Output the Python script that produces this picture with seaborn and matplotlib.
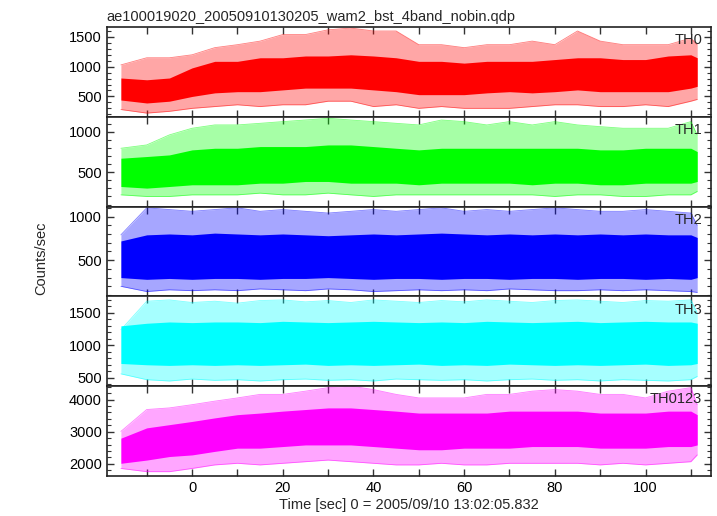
import numpy as np
import pandas as pd
import matplotlib
matplotlib.use("Agg")
import matplotlib.pyplot as plt
from matplotlib.ticker import MultipleLocator
import seaborn as sns

t = [-15.7, -10, -5, 0, 5, 10, 15, 20, 25, 30, 35, 40, 45, 50, 55, 60,
     65, 70, 75, 80, 85, 90, 95, 100, 105, 110, 111.4]

bands = ["TH0", "TH1", "TH2", "TH3", "TH0123"]
colors = ["#ff0000", "#00ff00", "#0000ff", "#00ffff", "#ff00ff"]

# spike maxima / dense-core top / dense-core bottom / spike minima (counts/sec)
th0_hi = [1030, 1150, 1150, 1200, 1320, 1370, 1430, 1540, 1540, 1620, 1650, 1600, 1600, 1370,
          1370, 1320, 1370, 1370, 1430, 1370, 1600, 1430, 1370, 1370, 1370, 1480, 1370]
th0_chi = [810, 780, 810, 980, 1090, 1090, 1150, 1150, 1180, 1180, 1200, 1180, 1150, 1090,
           1090, 1060, 1090, 1090, 1090, 1120, 1150, 1150, 1120, 1120, 1180, 1200, 1150]
th0_clo = [440, 390, 420, 500, 560, 580, 580, 610, 640, 640, 640, 610, 580, 530,
           530, 530, 560, 580, 560, 580, 610, 580, 580, 580, 580, 640, 670]
th0_lo = [280, 220, 250, 300, 330, 360, 330, 360, 360, 420, 420, 330, 360, 300,
          330, 300, 300, 300, 330, 360, 360, 330, 330, 360, 330, 420, 450]

th1_hi = [795, 836, 960, 1042, 1083, 1083, 1103, 1124, 1144, 1165, 1144, 1124, 1103, 1083,
          1144, 1124, 1083, 1124, 1083, 1124, 1083, 1062, 1042, 1042, 1042, 1124, 960]
th1_chi = [672, 693, 713, 775, 795, 795, 816, 816, 816, 836, 836, 816, 795, 775,
           795, 795, 795, 795, 795, 795, 795, 775, 775, 795, 795, 795, 754]
th1_clo = [323, 303, 323, 344, 344, 344, 364, 364, 385, 385, 364, 364, 364, 344,
           364, 364, 364, 364, 344, 364, 364, 344, 344, 364, 364, 364, 385]
th1_lo = [220, 200, 200, 220, 220, 220, 241, 220, 220, 241, 220, 200, 220, 220,
          220, 220, 220, 220, 220, 200, 220, 220, 200, 200, 220, 220, 262]

th2_hi = [790, 1100, 1080, 1060, 1080, 1100, 1060, 1080, 1060, 1040, 1060, 1080, 1060, 1080,
          1100, 1060, 1080, 1060, 1080, 1100, 1080, 1060, 1060, 1080, 1060, 1040, 900]
th2_chi = [720, 790, 800, 790, 810, 800, 790, 800, 790, 780, 790, 800, 790, 800,
           810, 800, 790, 800, 790, 800, 790, 800, 790, 800, 790, 790, 760]
th2_clo = [300, 280, 290, 280, 290, 290, 280, 290, 290, 300, 290, 280, 290, 290,
           280, 290, 290, 280, 290, 290, 280, 290, 290, 280, 290, 280, 300]
th2_lo = [200, 140, 160, 150, 160, 150, 170, 160, 150, 170, 160, 140, 150, 160,
          150, 160, 150, 170, 160, 150, 150, 160, 150, 160, 150, 140, 130]

th3_hi = [1240, 1680, 1700, 1660, 1680, 1650, 1690, 1700, 1670, 1690, 1660, 1700, 1680, 1660,
          1690, 1670, 1700, 1680, 1660, 1690, 1700, 1680, 1660, 1690, 1680, 1700, 1500]
th3_chi = [1300, 1340, 1360, 1350, 1360, 1360, 1350, 1370, 1360, 1350, 1360, 1370, 1360, 1350,
           1360, 1350, 1370, 1360, 1350, 1360, 1370, 1350, 1360, 1370, 1360, 1360, 1340]
th3_clo = [720, 700, 690, 700, 690, 700, 690, 700, 710, 690, 700, 690, 700, 710,
           690, 700, 690, 710, 700, 690, 700, 690, 700, 710, 690, 700, 720]
th3_lo = [560, 470, 450, 480, 460, 470, 450, 470, 480, 460, 470, 450, 480, 470,
          460, 470, 450, 470, 480, 460, 470, 450, 470, 460, 450, 470, 520]

th0123_hi = [3010, 3690, 3740, 3840, 3950, 4050, 4160, 4160, 4260, 4370, 4420, 4310, 4160, 4050,
             4050, 4050, 4160, 4160, 4260, 4310, 4260, 4160, 4160, 4050, 4260, 4370, 3840]
th0123_chi = [2800, 3120, 3220, 3320, 3430, 3530, 3580, 3640, 3690, 3740, 3740, 3690, 3640, 3580,
              3580, 3580, 3580, 3640, 3640, 3640, 3640, 3580, 3580, 3580, 3640, 3640, 3530]
th0123_clo = [2020, 2120, 2230, 2280, 2390, 2490, 2490, 2540, 2590, 2590, 2590, 2540, 2490, 2440,
              2440, 2490, 2490, 2490, 2540, 2540, 2540, 2490, 2490, 2490, 2540, 2540, 2590]
th0123_lo = [1860, 1760, 1760, 1860, 1970, 2020, 1970, 2020, 2070, 2120, 2070, 2020, 1970, 1970,
             2020, 1970, 1970, 2020, 2020, 2020, 2020, 1970, 2020, 1970, 2020, 2070, 2280]

envelopes = [
    (th0_hi, th0_chi, th0_clo, th0_lo),
    (th1_hi, th1_chi, th1_clo, th1_lo),
    (th2_hi, th2_chi, th2_clo, th2_lo),
    (th3_hi, th3_chi, th3_clo, th3_lo),
    (th0123_hi, th0123_chi, th0123_clo, th0123_lo),
]

ylims = [(160, 1670), (76, 1185), (85, 1115), (370, 1755), (1625, 4415)]
ymajor = [500, 500, 500, 500, 1000]
yminor = [100, 100, 100, 100, 200]

sns.set_style("ticks")
plt.rcParams["font.family"] = ["Liberation Sans", "DejaVu Sans"]
plt.rcParams["font.size"] = 10.5

fig, axes = plt.subplots(5, 1, figsize=(7.17, 5.16), dpi=100, sharex=True)
fig.subplots_adjust(left=0.149, right=0.992, top=0.948, bottom=0.0775, hspace=0)

for ax, band, col, env, yl, ymj, ymn in zip(axes, bands, colors, envelopes, ylims, ymajor, yminor):
    hi, chi, clo, lo = env
    df = pd.DataFrame({"t": t, "hi": hi, "chi": chi, "clo": clo, "lo": lo})
    # light spikes around the dense core
    ax.fill_between(df["t"], df["lo"], df["hi"], color=col, alpha=0.35, lw=0)
    ax.fill_between(df["t"], df["clo"], df["chi"], color=col, lw=0)
    sns.lineplot(data=df, x="t", y="hi", ax=ax, color=col, lw=0.6, alpha=0.5)
    sns.lineplot(data=df, x="t", y="lo", ax=ax, color=col, lw=0.6, alpha=0.5)

    ax.set_xlim(-18.8, 114.5)
    ax.set_ylim(*yl)
    ax.set_ylabel("")
    ax.set_xlabel("")
    ax.xaxis.set_major_locator(MultipleLocator(20))
    ax.xaxis.set_minor_locator(MultipleLocator(10))
    ax.yaxis.set_major_locator(MultipleLocator(ymj))
    ax.yaxis.set_minor_locator(MultipleLocator(ymn))
    ax.tick_params(which="both", direction="in", top=True, right=True, colors="#333333",
                   labelcolor="black", labelsize=10.5)
    ax.tick_params(which="major", length=5, width=1)
    ax.tick_params(axis="x", which="minor", length=5, width=1)
    ax.tick_params(axis="y", which="minor", length=3, width=0.8)
    for sp in ax.spines.values():
        sp.set_color("#222222")
        sp.set_linewidth(1.2)
    ax.text(0.985, 0.93, band, transform=ax.transAxes, ha="right", va="top", fontsize=10.5)

axes[0].set_title("ae100019020_20050910130205_wam2_bst_4band_nobin.qdp", loc="left",
                  fontsize=10.5, pad=4)
fig.text(0.058, 0.5, "Counts/sec", rotation=90, ha="center", va="center", fontsize=10.5)
axes[-1].set_xlabel("Time [sec] 0 = 2005/09/10 13:02:05.832", fontsize=10.5, labelpad=2)

plt.savefig("out.png", dpi=100)
